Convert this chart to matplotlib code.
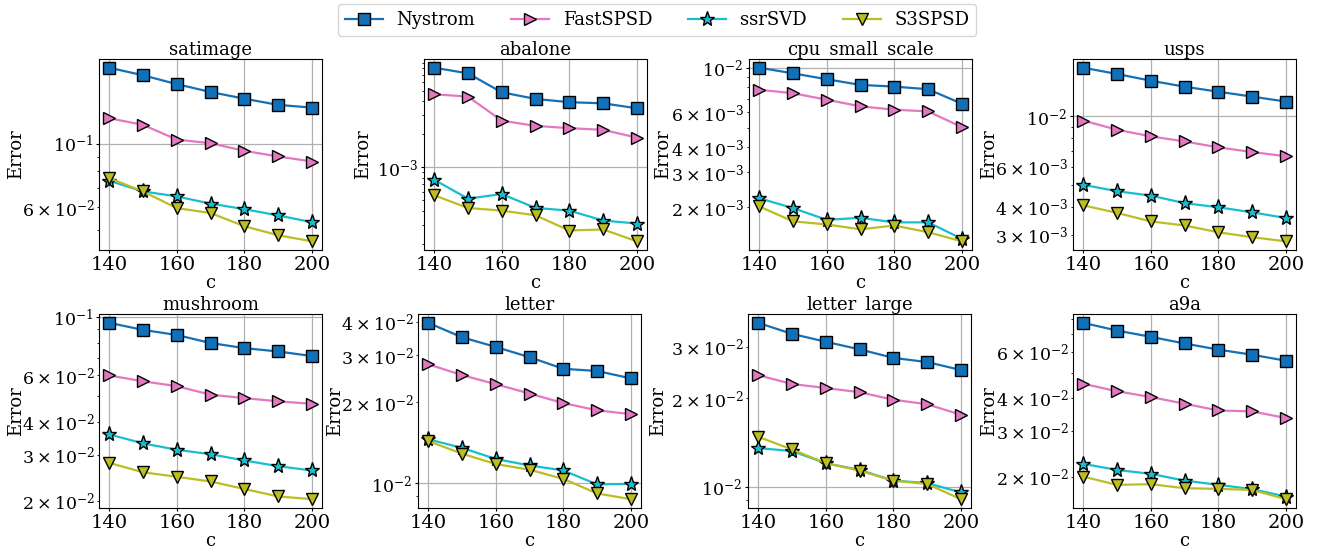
import numpy as np
import matplotlib
matplotlib.use("Agg")
import matplotlib.pyplot as plt

plt.rcParams['font.family'] = 'serif'
plt.rcParams['font.serif'] = ['DejaVu Serif']
plt.rcParams['mathtext.fontset'] = 'dejavuserif'

# sample sizes
c = [140, 150, 160, 170, 180, 190, 200]

methods = ["Nystrom", "FastSPSD", "ssrSVD", "S3SPSD"]
colors = ['#1170b8', '#e377c2', '#17becf', '#bcbd22']
markers = ['s', '>', '*', 'v']

datasets = ["satimage", "abalone", "cpu_small_scale", "usps",
            "mushroom", "letter", "letter_large", "a9a"]

# errors, one list per method
satimage_nys = [0.185, 0.174, 0.162, 0.152, 0.144, 0.137, 0.134]
satimage_fast = [0.123, 0.1166, 0.1035, 0.1005, 0.0945, 0.0903, 0.0867]
satimage_ssr = [0.0742, 0.0681, 0.0654, 0.0617, 0.059, 0.0561, 0.0531]
satimage_s3 = [0.0758, 0.0681, 0.0595, 0.0572, 0.0514, 0.0478, 0.0455]

abalone_nys = [8.11e-3, 7.2e-3, 4.84e-3, 4.21e-3, 3.93e-3, 3.84e-3, 3.46e-3]
abalone_fast = [4.64e-3, 4.42e-3, 2.67e-3, 2.39e-3, 2.28e-3, 2.2e-3, 1.87e-3]
abalone_ssr = [7.73e-4, 5.19e-4, 5.72e-4, 4.27e-4, 4.04e-4, 3.28e-4, 3.08e-4]
abalone_s3 = [5.57e-4, 4.27e-4, 4.04e-4, 3.66e-4, 2.66e-4, 2.72e-4, 2.12e-4]

cpu_nys = [0.0100, 0.00937, 0.00875, 0.0082, 0.00804, 0.0078, 0.0066]
cpu_fast = [0.00775, 0.00745, 0.00691, 0.0064, 0.00616, 0.00604, 0.00504]
cpu_ssr = [0.00222, 0.00198, 0.00173, 0.00177, 0.00168, 0.00168, 0.00139]
cpu_s3 = [0.00202, 0.00170, 0.00164, 0.00155, 0.00162, 0.00150, 0.00135]

usps_nys = [0.01636, 0.01535, 0.01434, 0.01349, 0.01282, 0.0122, 0.0116]
usps_fast = [0.00957, 0.00872, 0.00815, 0.00774, 0.00729, 0.00695, 0.00666]
usps_ssr = [0.00499, 0.00467, 0.00447, 0.00414, 0.00397, 0.00377, 0.00356]
usps_s3 = [0.00405, 0.00375, 0.00344, 0.0033, 0.00308, 0.00293, 0.00281]

mush_nys = [0.0951, 0.0894, 0.0855, 0.0797, 0.0762, 0.074, 0.0711]
mush_fast = [0.060, 0.057, 0.0546, 0.0507, 0.0492, 0.0478, 0.0468]
mush_ssr = [0.0358, 0.0331, 0.0313, 0.0301, 0.0285, 0.0271, 0.0261]
mush_s3 = [0.0279, 0.0257, 0.0247, 0.0237, 0.0222, 0.0208, 0.0203]

letter_nys = [0.0396, 0.035, 0.0322, 0.0295, 0.0267, 0.0262, 0.0246]
letter_fast = [0.02776, 0.0253, 0.0234, 0.0216, 0.0199, 0.0187, 0.0181]
letter_ssr = [0.01459, 0.01356, 0.01232, 0.01166, 0.01117, 0.00991, 0.00995]
letter_s3 = [0.01437, 0.0129, 0.0118, 0.01124, 0.01039, 0.00917, 0.00873]

large_nys = [0.0362, 0.0332, 0.0312, 0.0294, 0.0275, 0.0266, 0.025]
large_fast = [0.024, 0.0224, 0.0217, 0.021, 0.0198, 0.0191, 0.0176]
large_ssr = [0.01355, 0.01323, 0.01203, 0.01142, 0.01049, 0.0103, 0.00956]
large_s3 = [0.0148, 0.0134, 0.01203, 0.01135, 0.01049, 0.01022, 0.00907]

a9a_nys = [0.0775, 0.0724, 0.0685, 0.0646, 0.0612, 0.0585, 0.0555]
a9a_fast = [0.0453, 0.0424, 0.0403, 0.038, 0.0358, 0.0355, 0.0335]
a9a_ssr = [0.02237, 0.0212, 0.02048, 0.0193, 0.01859, 0.0179, 0.01676]
a9a_s3 = [0.02, 0.01858, 0.0187, 0.01804, 0.01794, 0.01778, 0.01638]

errors = [
    [satimage_nys, satimage_fast, satimage_ssr, satimage_s3],
    [abalone_nys, abalone_fast, abalone_ssr, abalone_s3],
    [cpu_nys, cpu_fast, cpu_ssr, cpu_s3],
    [usps_nys, usps_fast, usps_ssr, usps_s3],
    [mush_nys, mush_fast, mush_ssr, mush_s3],
    [letter_nys, letter_fast, letter_ssr, letter_s3],
    [large_nys, large_fast, large_ssr, large_s3],
    [a9a_nys, a9a_fast, a9a_ssr, a9a_s3],
]

fig = plt.figure(figsize=(13.22, 5.48), dpi=100)

# axes boxes in pixels (left, top) of the reference layout
lefts = [99, 424, 749, 1073, 99, 418, 748, 1073]
tops = [59, 59, 59, 59, 314, 314, 314, 314]
heights = [191, 191, 191, 191, 194, 194, 194, 194]
ylabel_x = [25, 372, 672, 998, 25, 344, 667, 998]  # right edge of "Error"
W, H = 1322, 548

for i, name in enumerate(datasets):
    ax = fig.add_axes([lefts[i] / W, 1 - (tops[i] + heights[i]) / H,
                       223 / W, heights[i] / H])
    for j in range(4):
        ax.plot(c, errors[i][j], color=colors[j], marker=markers[j],
                markersize=9 if markers[j] != '*' else 11,
                markeredgecolor='black', markeredgewidth=1.0,
                linewidth=1.6, label=methods[j])
    ax.set_yscale('log')
    ax.set_xticks([140, 160, 180, 200])
    ax.grid(True, which='major', color='#b0b0b0', linewidth=0.9)
    ax.set_title(name, fontsize=13, pad=2)
    ax.set_xlabel('c', fontsize=13, labelpad=0)
    ax.set_ylabel('Error', fontsize=13)
    ax.yaxis.set_label_coords((ylabel_x[i] - lefts[i]) / 223, 0.5)
    ax.tick_params(axis='x', which='major', labelsize=14, length=2.5, pad=1.5)
    ax.tick_params(axis='y', which='major', labelsize=12.5, length=2.5, pad=1.5)
    ax.tick_params(axis='y', which='minor', labelsize=12.5, length=1.5, pad=1.5)
    if i == 0:
        handles, labels = ax.get_legend_handles_labels()

fig.legend(handles, labels, loc='upper center', ncol=4,
           bbox_to_anchor=(0.497, 1.0), fontsize=13, borderaxespad=0.2,
           columnspacing=2.0, handlelength=2.1, handletextpad=0.75)

fig.savefig('out.png', dpi=100)
